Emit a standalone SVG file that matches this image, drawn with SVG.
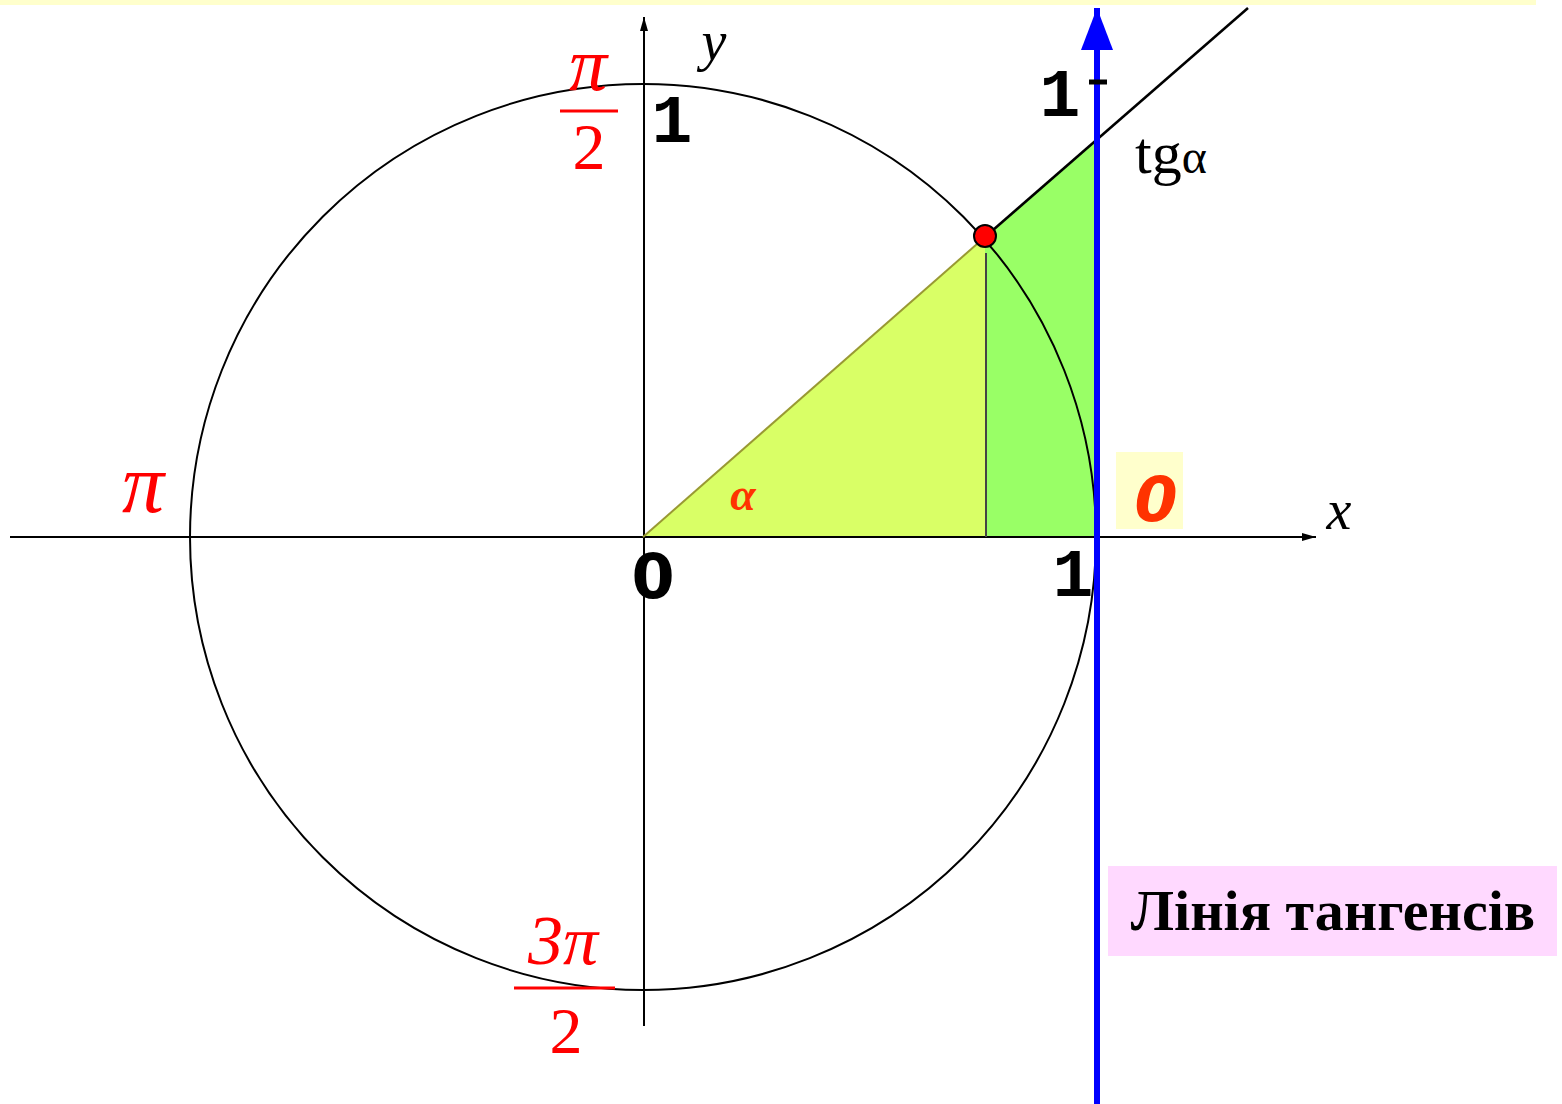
<svg xmlns="http://www.w3.org/2000/svg" width="1562" height="1104" viewBox="0 0 1562 1104">
<style>
.num{font-family:"Liberation Mono",monospace;font-weight:bold;font-size:68px;fill:#000}
.zero{font-family:"DejaVu Sans",sans-serif;font-weight:bold;font-size:62px;fill:#000}
.red{font-family:"Liberation Serif","DejaVu Serif",serif;font-style:italic;fill:#ff0000}
.up{font-style:normal}
.ax{font-family:"Liberation Serif",serif;font-style:italic;font-size:56px;fill:#000}
</style>
<defs>
<marker id="arr" markerWidth="14" markerHeight="8" refX="14" refY="4" orient="auto" markerUnits="userSpaceOnUse"><path d="M0,0 L14,4 L0,8 Z" fill="#000"/></marker>
<marker id="barr" markerWidth="42" markerHeight="32" refX="42" refY="16" orient="auto" markerUnits="userSpaceOnUse"><path d="M0,0 L42,16 L0,32 Z" fill="#0000ff"/></marker>
</defs>
<rect x="0" y="0" width="1536" height="5" fill="#ffffcc"/>
<g id="fills">
<polygon points="643,537 985,237 985,537" fill="#d9ff66"/>
<polygon points="985,237 1096,140 1096,537 985,537" fill="#99ff66"/>
</g>
<g id="connectors">
<line x1="10" y1="537" x2="1316" y2="537" stroke="#000" stroke-width="2" marker-end="url(#arr)"/>
<line x1="644" y1="1026" x2="644" y2="17" stroke="#000" stroke-width="2" marker-end="url(#arr)"/>
<circle cx="643" cy="537" r="453" fill="none" stroke="#000" stroke-width="2"/>
<line x1="643" y1="537" x2="985" y2="237" stroke="#999933" stroke-width="2"/>
<line x1="986" y1="253" x2="986" y2="537" stroke="#444" stroke-width="2"/>
<line x1="985" y1="237" x2="1248" y2="8" stroke="#000" stroke-width="2.5"/>
<line x1="1097" y1="1104" x2="1097" y2="8" stroke="#0000ff" stroke-width="6" marker-end="url(#barr)"/>
<line x1="1089" y1="82" x2="1107" y2="82" stroke="#000" stroke-width="5"/>
</g>
<g id="point"><circle cx="985" cy="236" r="11" fill="#ff0000" stroke="#000" stroke-width="2"/></g>
<g id="labels">
<text class="num" x="672" y="142" text-anchor="middle">1</text>
<text class="num" x="1060" y="116" text-anchor="middle">1</text>
<text class="zero" x="653" y="598" text-anchor="middle">0</text>
<text class="num" x="1073" y="596" text-anchor="middle">1</text>
<text class="ax" x="714" y="60" text-anchor="middle">y</text>
<text class="ax" x="1339" y="529" text-anchor="middle">x</text>
<text x="1135" y="173" font-family="Liberation Serif,serif" font-size="60" fill="#000">tg<tspan font-size="48">α</tspan></text>
<text class="red" x="743" y="510" text-anchor="middle" font-size="46" font-weight="bold" style="fill:#ff3300">α</text>
</g>
<g id="pi-half">
<text class="red" x="588" y="90" text-anchor="middle" font-size="76">π</text>
<line x1="560" y1="111" x2="618" y2="111" stroke="#ff0000" stroke-width="3"/>
<text class="red up" x="589" y="169" text-anchor="middle" font-size="66">2</text>
</g>
<g id="pi"><text class="red" x="143" y="512" text-anchor="middle" font-size="84">π</text></g>
<g id="three-pi-half">
<text class="red" x="563" y="964" text-anchor="middle" font-size="70">3π</text>
<line x1="514" y1="988" x2="615" y2="988" stroke="#ff0000" stroke-width="3"/>
<text class="red up" x="566" y="1053" text-anchor="middle" font-size="66">2</text>
</g>
<g id="zero-box">
<rect x="1116" y="452" width="67" height="77" fill="#ffffcc"/>
<text x="1156" y="521" text-anchor="middle" font-family="DejaVu Sans,sans-serif" font-weight="bold" font-style="italic" font-size="62" fill="#ff3300">0</text>
</g>
<g id="tangent-label">
<rect x="1108" y="866" width="449" height="90" fill="#ffd9ff"/>
<text x="1333" y="930" text-anchor="middle" font-family="Liberation Serif,serif" font-weight="bold" font-size="58" fill="#000">Лінія тангенсів</text>
</g>
</svg>
